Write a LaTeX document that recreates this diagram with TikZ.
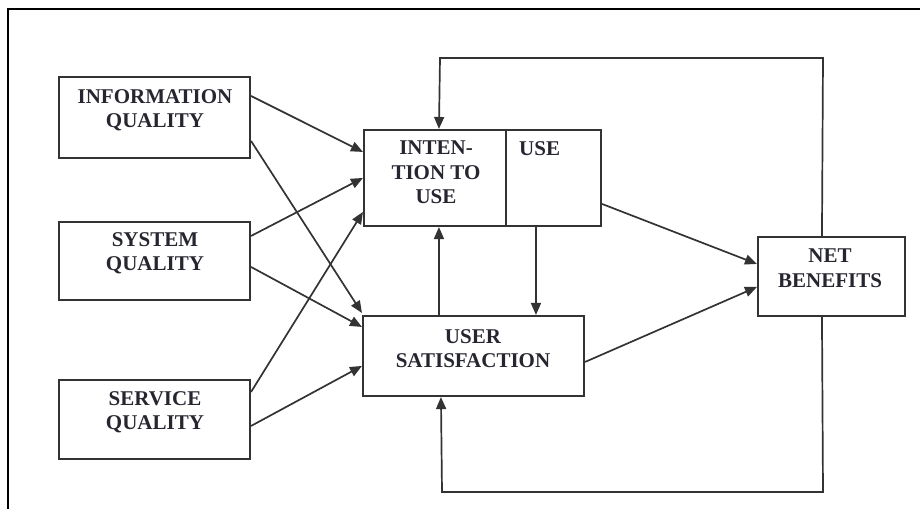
\documentclass[tikz,border=0pt]{standalone}
\usepackage{fontspec}
\setmainfont{Liberation Serif}
\usetikzlibrary{arrows.meta,calc}
\definecolor{edge}{HTML}{333333}
\definecolor{ink}{HTML}{262630}
\tikzset{
  box/.style={draw=edge, line width=2.1pt, inner sep=0pt, rectangle},
  lbl/.style={anchor=north, align=center, inner sep=0pt, text=ink,
    font=\fontsize{21}{24.5}\selectfont\bfseries},
  link/.style={draw=edge, line width=1.7pt,
    -{Triangle[length=12pt,width=10pt]}},
}
\begin{document}
\begin{tikzpicture}[x=1pt,y=-1pt]
  \useasboundingbox (0,0) rectangle (920,509);
  % outer frame (top and left edges)
  \draw[line width=1.4pt, black] (920,9) -- (8,9) -- (8,509);

  % boxes
  \node[box, minimum width=191pt, minimum height=81pt] (iq)  at (154.5,117.5) {};
  \node[box, minimum width=191pt, minimum height=78pt] (sq)  at (154.5,261) {};
  \node[box, minimum width=191pt, minimum height=79pt] (svq) at (154.5,419.5) {};
  \node[box, minimum width=237pt, minimum height=96pt] (it)  at (482.5,178) {};
  \node[box, minimum width=221pt, minimum height=80pt] (us)  at (473.5,356) {};
  \node[box, minimum width=147pt, minimum height=79pt] (nb)  at (831.5,276.5) {};
  \draw[draw=edge, line width=2.1pt] ([xshift=143pt]it.north west) coordinate (dv1)
    -- ([xshift=143pt]it.south west) coordinate (dv2);

  % labels
  \node[lbl] (tiq)  at (155,89)  {INFORMATION\\QUALITY};
  \node[lbl] (tsq)  at (155,232) {SYSTEM\\QUALITY};
  \node[lbl] (tsvq) at (155,391) {SERVICE\\QUALITY};
  \node[lbl] (tit)  at (436,141) {INTEN-\\TION TO\\USE};
  \node[lbl, anchor=north west] (tuse) at (519,141) {USE};
  \node[lbl] (tus)  at (473,329) {USER\\SATISFACTION};
  \node[lbl] (tnb)  at (830,249) {NET\\BENEFITS};

  % quality dimensions into intention / satisfaction
  \draw[link] ([yshift=-20pt]iq.north east) -- ([yshift=-23pt]it.north west);
  \draw[link] ([yshift=-65pt]iq.north east) -- ([yshift=2pt]us.north west);
  \draw[link] ([yshift=-15pt]sq.north east) -- ([yshift=-49pt]it.north west);
  \draw[link] ([yshift=-46pt]sq.north east) -- ([yshift=-12pt]us.north west);
  \draw[link] ([yshift=-13pt]svq.north east) -- ([yshift=-83pt]it.north west);
  \draw[link] ([yshift=-47pt]svq.north east) -- ([yshift=-51pt]us.north west);

  % between intention/use and satisfaction
  \draw[link] ([xshift=77pt]us.north west) -- ([xshift=76pt]it.south west);
  \draw[link] ([xshift=173pt]it.south west) -- ([xshift=174pt]us.north west);

  % into net benefits
  \draw[link] ([yshift=-75pt]it.north east) -- ([yshift=-28pt]nb.north west);
  \draw[link] ([yshift=-47pt]us.north east) -- ([yshift=-51pt]nb.north west);

  % feedback loops
  \coordinate (tr) at (823,58);
  \coordinate (tl) at (440,58);
  \coordinate (br) at (823,492);
  \coordinate (bl) at (442,492);
  \draw[link] ([xshift=65pt]nb.north west) -- (tr) -- (tl) -- ([xshift=76pt]it.north west);
  \draw[link] ([xshift=65pt]nb.south west) -- (br) -- (bl) -- ([xshift=79pt]us.south west);
\end{tikzpicture}
\end{document}
